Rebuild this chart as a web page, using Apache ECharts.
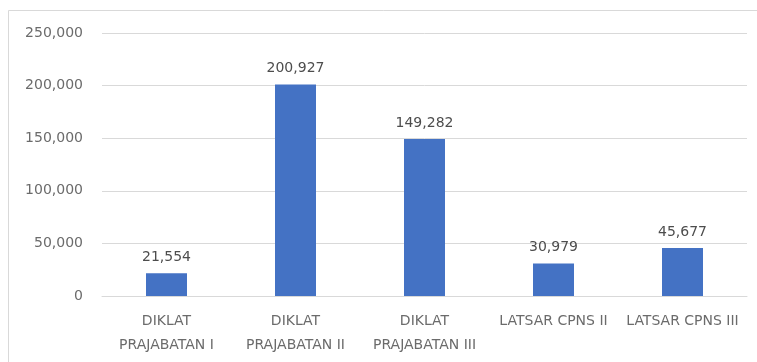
<!DOCTYPE html>
<html>
<head>
<meta charset="utf-8">
<script src="https://cdn.jsdelivr.net/npm/echarts@6/dist/echarts.min.js"></script>
<style>
  html, body { margin: 0; padding: 0; background: #ffffff; }
  #chart { width: 757px; height: 362px; }
</style>
</head>
<body>
<div id="chart"></div>
<script>
// Peserta per jenis diklat
const categories = [
  'DIKLAT\nPRAJABATAN I',
  'DIKLAT\nPRAJABATAN II',
  'DIKLAT\nPRAJABATAN III',
  'LATSAR CPNS II',
  'LATSAR CPNS III'
];
const values = [21554, 200927, 149282, 30979, 45677];
const yTicks = { min: 0, max: 250000, interval: 50000 };

const fmt = v => v.toLocaleString('en-US');
const font = '"DejaVu Sans", sans-serif';

const chart = echarts.init(document.getElementById('chart'), null, { renderer: 'canvas' });
chart.setOption({
  animation: false,
  backgroundColor: '#ffffff',
  graphic: [{
    type: 'rect',
    shape: { x: 8.5, y: 10.5, width: 760, height: 360 },
    style: { fill: 'none', stroke: '#d9d9d9', lineWidth: 1 },
    silent: true
  }],
  grid: { left: 102, right: 10, top: 33, bottom: 66 },
  xAxis: {
    type: 'category',
    data: categories,
    axisLine: { show: true, lineStyle: { color: '#d9d9d9', width: 1 } },
    axisTick: { show: false },
    axisLabel: {
      interval: 0,
      margin: 13,
      color: '#6b6b6b',
      fontFamily: font,
      fontSize: 14,
      lineHeight: 24,
      verticalAlign: 'top'
    }
  },
  yAxis: {
    type: 'value',
    min: yTicks.min,
    max: yTicks.max,
    interval: yTicks.interval,
    axisLine: { show: false },
    axisTick: { show: false },
    splitLine: { lineStyle: { color: '#d9d9d9', width: 1 } },
    axisLabel: {
      margin: 19,
      color: '#6b6b6b',
      fontFamily: font,
      fontSize: 14,
      formatter: v => fmt(v)
    }
  },
  series: [{
    type: 'bar',
    data: values,
    barWidth: 41,
    itemStyle: { color: '#4472c4' },
    label: {
      show: true,
      position: 'top',
      distance: 9,
      color: '#4d4d4d',
      fontFamily: font,
      fontSize: 14,
      formatter: p => fmt(p.value)
    }
  }]
});
</script>
</body>
</html>
